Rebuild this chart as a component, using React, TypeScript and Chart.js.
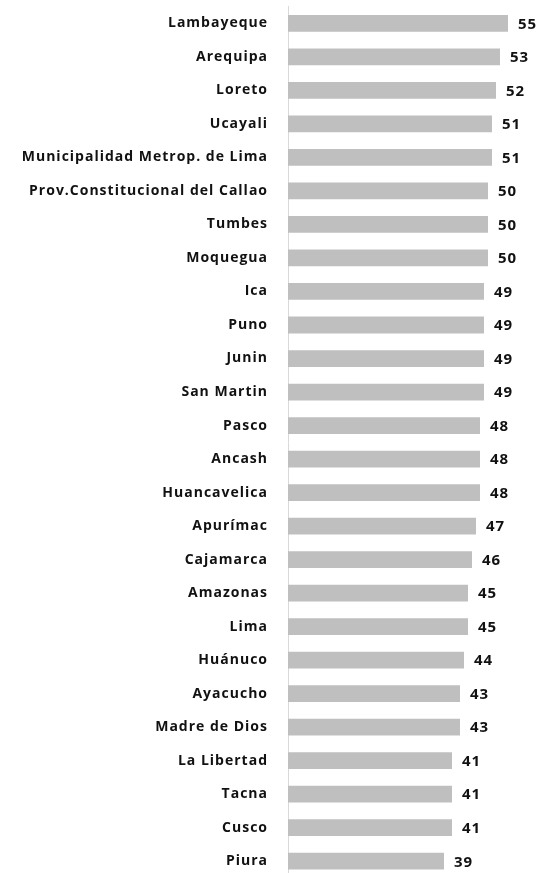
import React, { useEffect, useRef } from "react";
import { Chart, registerables } from "chart.js";

Chart.register(...registerables);

const categories: string[] = [
  "Lambayeque",
  "Arequipa",
  "Loreto",
  "Ucayali",
  "Municipalidad Metrop. de Lima",
  "Prov.Constitucional del Callao",
  "Tumbes",
  "Moquegua",
  "Ica",
  "Puno",
  "Junin",
  "San Martin",
  "Pasco",
  "Ancash",
  "Huancavelica",
  "Apurímac",
  "Cajamarca",
  "Amazonas",
  "Lima",
  "Huánuco",
  "Ayacucho",
  "Madre de Dios",
  "La Libertad",
  "Tacna",
  "Cusco",
  "Piura",
];

const values: number[] = [
  55, 53, 52, 51, 51, 50, 50, 50, 49, 49, 49, 49, 48, 48, 48, 47, 46, 45, 45, 44, 43, 43, 41, 41, 41, 39,
];

const FONT = "'Open Sans', 'Liberation Sans', sans-serif";

const valueLabelPlugin = {
  id: "valueLabels",
  beforeDraw(chart: any) {
    try {
      (chart.ctx as any).letterSpacing = "1px";
    } catch (e) {}
  },
  afterDatasetsDraw(chart: any) {
    const ctx = chart.ctx;
    const meta = chart.getDatasetMeta(0);
    ctx.save();
    ctx.font = `bold 15px ${FONT}`;
    ctx.fillStyle = "#111111";
    ctx.textAlign = "left";
    ctx.textBaseline = "middle";
    meta.data.forEach((bar: any, i: number) => {
      ctx.fillText(String(values[i]), bar.x + 10, bar.y + 1);
    });
    ctx.restore();
  },
};

export default function App() {
  const canvasRef = useRef<HTMLCanvasElement | null>(null);

  useEffect(() => {
    if (!canvasRef.current) return;
    const chart = new Chart(canvasRef.current, {
      type: "bar",
      data: {
        labels: categories,
        datasets: [
          {
            data: values,
            backgroundColor: "#bfbfbf",
            borderWidth: 0,
            categoryPercentage: 1,
            barPercentage: 0.5,
          },
        ],
      },
      options: {
        indexAxis: "y",
        animation: false,
        responsive: true,
        maintainAspectRatio: false,
        layout: { padding: { top: 6.6, right: 11, bottom: 2, left: 0 } },
        plugins: {
          legend: { display: false },
          tooltip: { enabled: false },
          title: { display: false },
        },
        scales: {
          x: {
            display: false,
            min: 0,
            max: 60,
          },
          y: {
            afterFit(scale: any) {
              scale.width = 288;
              scale.paddingTop = 0;
              scale.paddingBottom = 0;
            },
            grid: { display: false, drawTicks: false },
            border: { display: true, color: "#d9d9d9", width: 1 },
            ticks: {
              autoSkip: false,
              padding: 20,
              color: "#111111",
              font: { family: FONT, size: 14, weight: "bold" },
            },
          },
        },
      },
      plugins: [valueLabelPlugin],
    });
    return () => chart.destroy();
  }, []);

  return (
    <div style={{ position: "absolute", left: 0, top: 0, width: 539, height: 880 }}>
      <canvas ref={canvasRef} />
    </div>
  );
}
